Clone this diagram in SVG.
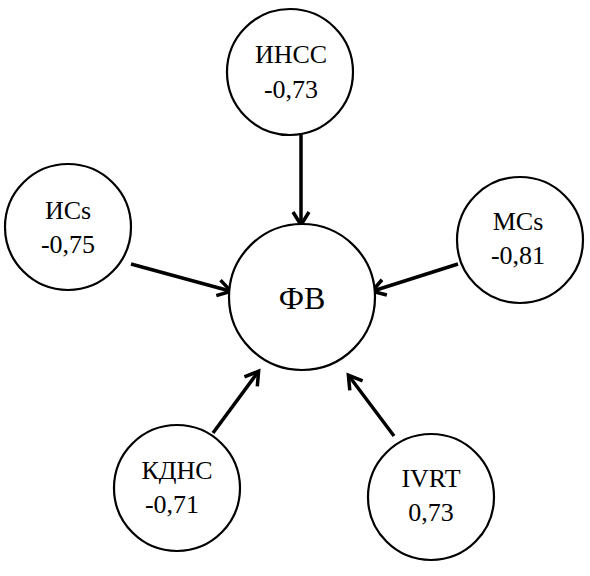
<svg xmlns="http://www.w3.org/2000/svg" width="590" height="576" viewBox="0 0 590 576">
<defs>
<marker id="ah" markerWidth="20" markerHeight="20" refX="15" refY="10" orient="auto" markerUnits="userSpaceOnUse">
<path d="M3,2 L16,10 L3,18" fill="none" stroke="#000" stroke-width="3.5" stroke-linejoin="miter"/>
</marker>
<style>
.c{fill:#fff;stroke:#000;stroke-width:2.2}
.t{font-family:"Liberation Serif","Times New Roman",serif;font-size:26px;fill:#000;text-anchor:middle}
.tc{font-size:32px}
.e{stroke:#000;stroke-width:3.5;fill:none;marker-end:url(#ah)}
</style>
</defs>
<rect width="590" height="576" fill="#fff"/>
<g id="connectors">
<line class="e" x1="301" y1="135" x2="301" y2="224"/>
<line class="e" x1="131" y1="264" x2="230" y2="291"/>
<line class="e" x1="458" y1="264" x2="373" y2="291"/>
<line class="e" x1="213" y1="433" x2="258" y2="372"/>
<line class="e" x1="394" y1="436" x2="349" y2="376"/>
</g>
<g id="n-fv">
<circle class="c" cx="302" cy="297" r="73"/>
<text class="t tc" x="302" y="309">ФВ</text>
</g>
<g id="n-insc">
<circle class="c" cx="290" cy="72" r="63"/>
<text class="t" x="291" y="63">ИНСС</text>
<text class="t" x="291" y="98">-0,73</text>
</g>
<g id="n-ics">
<circle class="c" cx="68" cy="227" r="63"/>
<text class="t" x="68" y="219">ИCs</text>
<text class="t" x="68" y="253">-0,75</text>
</g>
<g id="n-mcs">
<circle class="c" cx="520" cy="240" r="63"/>
<text class="t" x="518" y="230">MCs</text>
<text class="t" x="518" y="264">-0,81</text>
</g>
<g id="n-kdns">
<circle class="c" cx="177" cy="488" r="63"/>
<text class="t" x="177" y="479">КДНС</text>
<text class="t" x="172" y="513">-0,71</text>
</g>
<g id="n-ivrt">
<circle class="c" cx="431" cy="497" r="63"/>
<text class="t" x="431" y="487">IVRT</text>
<text class="t" x="431" y="521">0,73</text>
</g>
</svg>
